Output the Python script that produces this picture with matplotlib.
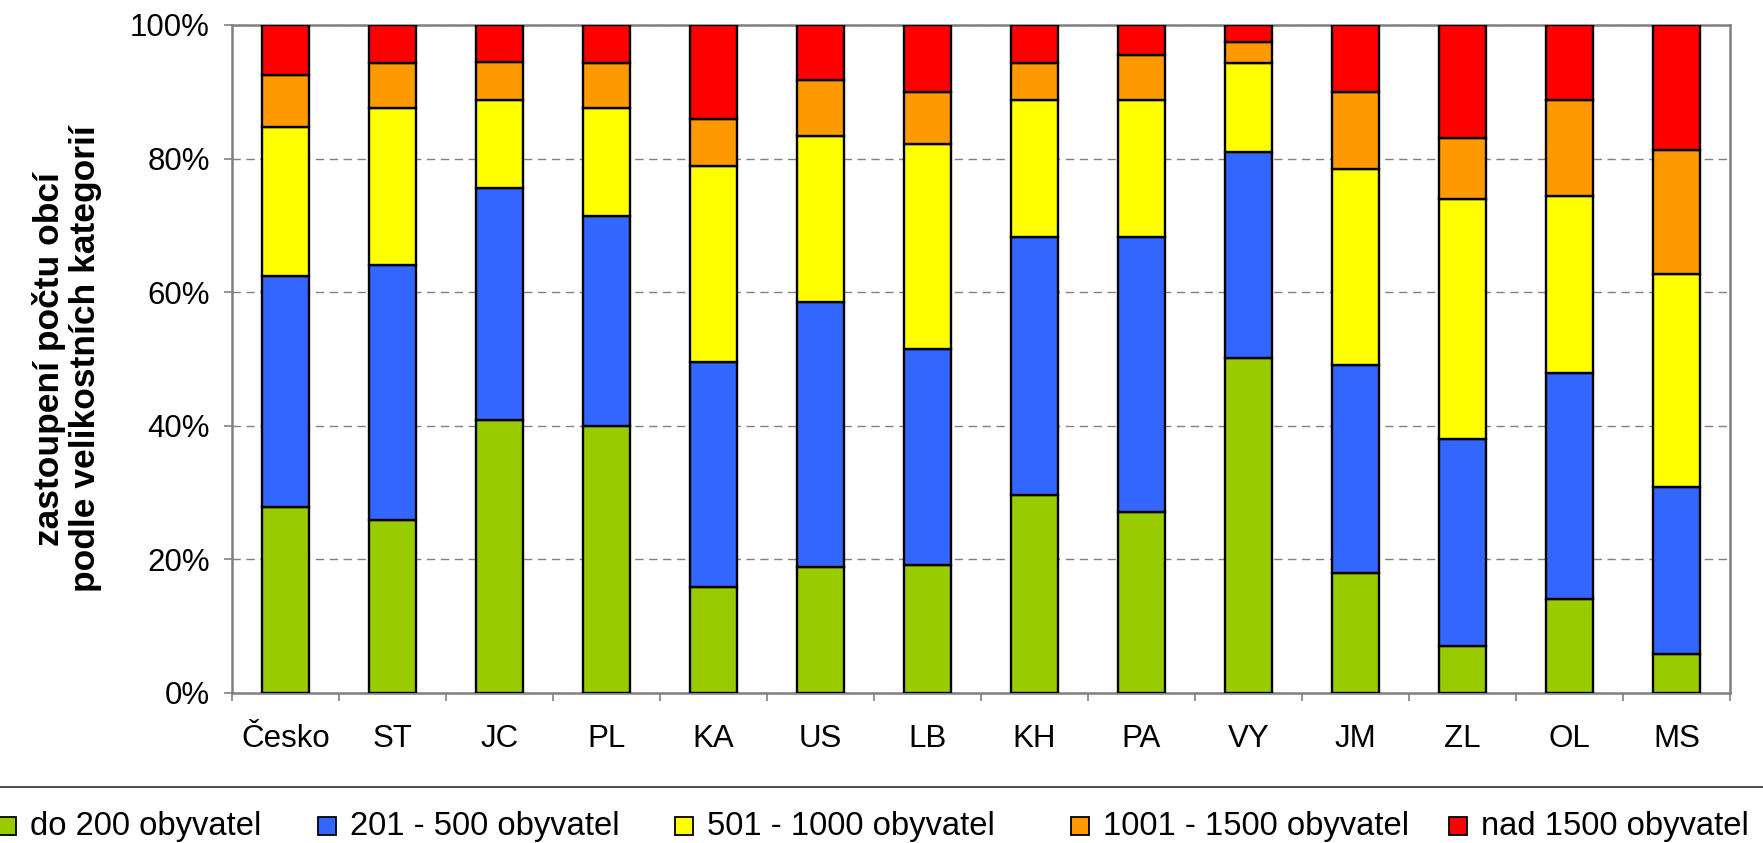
import numpy as np
import matplotlib
matplotlib.use("Agg")
import matplotlib.pyplot as plt
from matplotlib.patches import Rectangle
from matplotlib.lines import Line2D

# ---------------- data ----------------
regions = ["Česko", "ST", "JC", "PL", "KA", "US", "LB", "KH", "PA", "VY", "JM", "ZL", "OL", "MS"]
series_names = ["do 200 obyvatel", "201 - 500 obyvatel", "501 - 1000 obyvatel",
                "1001 - 1500 obyvatel", "nad 1500 obyvatel"]
do_200 =     [27.9, 25.9, 40.9, 40.0, 15.9, 18.8, 19.2, 29.7, 27.1, 50.2, 17.9, 7.1, 14.1, 5.9]
od_201_500 = [34.5, 38.1, 34.7, 31.4, 33.6, 39.8, 32.3, 38.5, 41.1, 30.8, 31.2, 30.9, 33.8, 25.0]
od_501_1000 = [22.3, 23.6, 13.2, 16.2, 29.4, 24.8, 30.7, 20.6, 20.6, 13.3, 29.4, 35.9, 26.5, 31.8]
od_1001_1500 = [7.8, 6.7, 5.7, 6.7, 7.1, 8.4, 7.8, 5.5, 6.7, 3.2, 11.5, 9.2, 14.4, 18.6]
nad_1500 =   [7.5, 5.7, 5.5, 5.7, 14.0, 8.2, 10.0, 5.7, 4.5, 2.5, 10.0, 16.9, 11.2, 18.7]
y_ticks = [0, 20, 40, 60, 80, 100]
y_label = "zastoupení počtu obcí\npodle velikostních kategorií"

# ---------------- style ----------------
colors = ["#99CC00", "#3366FF", "#FFFF00", "#FF9900", "#FF0000"]
W, H = 1763, 843
plt.rcParams['font.family'] = ['Liberation Sans', 'DejaVu Sans']

fig = plt.figure(figsize=(W / 100, H / 100), dpi=100)
ax = fig.add_axes([232 / W, 1 - 693 / H, (1730 - 232) / W, (693 - 25) / H])

values = [do_200, od_201_500, od_501_1000, od_1001_1500, nad_1500]
x = np.arange(len(regions))
bottom = np.zeros(len(regions))
for vals, col, name in zip(values, colors, series_names):
    vals = np.asarray(vals, dtype=float)
    ax.bar(x, vals, width=0.43, bottom=bottom, color=col, edgecolor="black",
           linewidth=1.7, label=name, zorder=3)
    bottom += vals

ax.set_xlim(-0.5, len(regions) - 0.5)
ax.set_ylim(0, 100)

grey = "#808080"
for s in ax.spines.values():
    s.set_color(grey)
    s.set_linewidth(1.8)

ax.set_yticks(y_ticks)
ax.set_yticklabels([f"{v}%" for v in y_ticks])
ax.tick_params(axis="y", length=6, width=1.2, color=grey, pad=10, labelsize=22.5)
ax.yaxis.grid(True, color=grey, linestyle=(0, (6, 4)), linewidth=1.0, zorder=0)
ax.set_axisbelow(True)

ax.set_xticks(np.arange(-0.5, len(regions), 1.0))
ax.set_xticklabels([])
ax.tick_params(axis="x", which="major", length=6, width=1.2, color=grey)
ax.set_xticks(x, minor=True)
ax.set_xticklabels(regions, minor=True)
ax.tick_params(axis="x", which="minor", length=0, pad=22, labelsize=22.5)

fig.text(67 / W, 1 - 359 / H, y_label, rotation=90, ha="center", va="center",
         fontsize=25.5, fontweight="bold", multialignment="center", linespacing=1.15)

# separator above the legend
fig.add_artist(Line2D([0, 1], [1 - 787 / H, 1 - 787 / H], transform=fig.transFigure,
                      color="#303030", linewidth=1.2))

# legend (manual layout)
marker_left = [-2, 318, 675, 1071, 1449]
for name, col, mx in zip(series_names, colors, marker_left):
    fig.add_artist(Rectangle((mx / W, 1 - 835 / H), 18 / W, 18 / H,
                             transform=fig.transFigure, facecolor=col,
                             edgecolor="black", linewidth=1.3))
    fig.text((mx + 32) / W, 1 - 835 / H, name, ha="left", va="baseline", fontsize=23.6)

fig.savefig("out.png", dpi=100)
